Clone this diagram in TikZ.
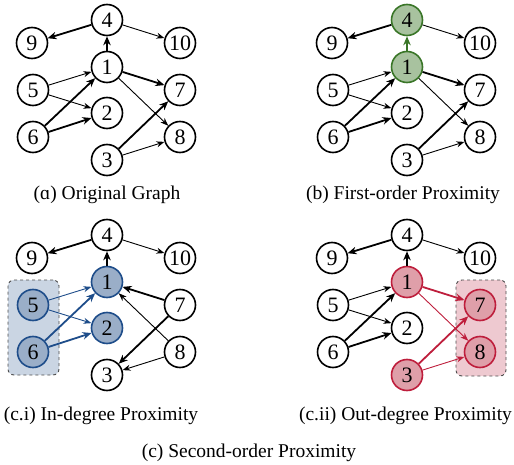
\documentclass[tikz,border=0pt]{standalone}
\usepackage{fontspec}
\setmainfont{Liberation Serif}
\usetikzlibrary{arrows.meta}
\definecolor{gfill}{HTML}{A8C29F}
\definecolor{gline}{HTML}{3A7628}
\definecolor{bfill}{HTML}{9AAEC8}
\definecolor{bline}{HTML}{1E4D8A}
\definecolor{bboxc}{HTML}{CAD5E3}
\definecolor{rfill}{HTML}{DF9FA9}
\definecolor{rline}{HTML}{BE1E3C}
\definecolor{rboxc}{HTML}{EEC9D0}
\tikzset{
  vert/.style={circle, draw=black, line width=1.6pt, fill=white, minimum size=31pt, inner sep=0pt, font=\fontsize{22}{22}\selectfont},
  gv/.style={vert, draw=gline, fill=gfill},
  bv/.style={vert, draw=bline, fill=bfill},
  rv/.style={vert, draw=rline, fill=rfill},
  thinedge/.style={-{Stealth[length=8pt,width=6pt]}, line width=0.9pt},
  thickedge/.style={-{Stealth[length=9pt,width=7.5pt]}, line width=1.8pt},
  grp/.style={draw=black!70, dashed, line width=0.9pt, rounded corners=6pt},
  captext/.style={anchor=base, inner sep=0pt, font=\fontsize{19.5}{20}\selectfont},
}
\begin{document}
\begin{tikzpicture}[x=1pt,y=-1pt]
\useasboundingbox (0,0) rectangle (514,465);

% ---------- (a) ----------
\begin{scope}[name prefix=a-]
  \node[vert] (4) at (107,20) {4};
  \node[vert] (9) at (32,43) {9};
  \node[vert] (10) at (180,43) {10};
  \node[vert] (1) at (107,67) {1};
  \node[vert] (5) at (33,90) {5};
  \node[vert] (7) at (180,90) {7};
  \node[vert] (2) at (107,113) {2};
  \node[vert] (6) at (33,137) {6};
  \node[vert] (8) at (180,137) {8};
  \node[vert] (3) at (107,160) {3};
  \draw[thickedge] (4) -- (9);
  \draw[thinedge] (4) -- (10);
  \draw[thickedge] (1) -- (4);
  \draw[thinedge] (5) -- (1);
  \draw[thinedge] (5) -- (2);
  \draw[thickedge] (6) -- (1);
  \draw[thickedge] (6) -- (2);
  \draw[thickedge] (1) -- (7);
  \draw[thinedge] (1) -- (8);
  \draw[thickedge] (3) -- (7);
  \draw[thinedge] (3) -- (8);
  \node[captext] (cap) at (107,200) {(ɑ) Original Graph};
\end{scope}

% ---------- (b) ----------
\begin{scope}[shift={(300,0)}, name prefix=b-]
  \node[gv] (4) at (107,20) {4};
  \node[vert] (9) at (32,43) {9};
  \node[vert] (10) at (180,43) {10};
  \node[gv] (1) at (107,67) {1};
  \node[vert] (5) at (33,90) {5};
  \node[vert] (7) at (180,90) {7};
  \node[vert] (2) at (107,113) {2};
  \node[vert] (6) at (33,137) {6};
  \node[vert] (8) at (180,137) {8};
  \node[vert] (3) at (107,160) {3};
  \draw[thickedge] (4) -- (9);
  \draw[thinedge] (4) -- (10);
  \draw[thickedge, gline] (1) -- (4);
  \draw[thinedge] (5) -- (1);
  \draw[thinedge] (5) -- (2);
  \draw[thickedge] (6) -- (1);
  \draw[thickedge] (6) -- (2);
  \draw[thickedge] (1) -- (7);
  \draw[thinedge] (1) -- (8);
  \draw[thickedge] (3) -- (7);
  \draw[thinedge] (3) -- (8);
  \node[captext] (cap) at (103,200) {(b) First-order Proximity};
\end{scope}

% ---------- (c.i) ----------
\begin{scope}[shift={(0,215)}, name prefix=c-]
  \node[grp, fill=bboxc, minimum width=51pt, minimum height=95pt] (box) at (33.5,112.5) {};
  \node[vert] (4) at (107,20) {4};
  \node[vert] (9) at (32,43) {9};
  \node[vert] (10) at (180,43) {10};
  \node[bv] (1) at (107,67) {1};
  \node[bv] (5) at (33,90) {5};
  \node[vert] (7) at (180,90) {7};
  \node[bv] (2) at (107,113) {2};
  \node[bv] (6) at (33,137) {6};
  \node[vert] (8) at (180,137) {8};
  \node[vert] (3) at (107,160) {3};
  \draw[thickedge] (4) -- (9);
  \draw[thinedge] (4) -- (10);
  \draw[thickedge] (1) -- (4);
  \draw[thinedge, bline] (5) -- (1);
  \draw[thinedge, bline] (5) -- (2);
  \draw[thickedge, bline] (6) -- (1);
  \draw[thickedge, bline] (6) -- (2);
  \draw[thickedge] (7) -- (1);
  \draw[thinedge] (8) -- (1);
  \draw[thickedge] (7) -- (3);
  \draw[thinedge] (8) -- (3);
  \node[captext] (cap) at (101,205) {(c.i) In-degree Proximity};
\end{scope}

% ---------- (c.ii) ----------
\begin{scope}[shift={(300,215)}, name prefix=d-]
  \node[grp, fill=rboxc, minimum width=50pt, minimum height=96pt] (box) at (181,113) {};
  \node[vert] (4) at (107,20) {4};
  \node[vert] (9) at (32,43) {9};
  \node[vert] (10) at (180,43) {10};
  \node[rv] (1) at (107,67) {1};
  \node[vert] (5) at (33,90) {5};
  \node[rv] (7) at (180,90) {7};
  \node[vert] (2) at (107,113) {2};
  \node[vert] (6) at (33,137) {6};
  \node[rv] (8) at (180,137) {8};
  \node[rv] (3) at (107,160) {3};
  \draw[thickedge] (4) -- (9);
  \draw[thinedge] (4) -- (10);
  \draw[thickedge] (1) -- (4);
  \draw[thinedge] (5) -- (1);
  \draw[thinedge] (5) -- (2);
  \draw[thickedge] (6) -- (1);
  \draw[thickedge] (6) -- (2);
  \draw[thickedge, rline] (1) -- (7);
  \draw[thinedge, rline] (1) -- (8);
  \draw[thickedge, rline] (3) -- (7);
  \draw[thinedge, rline] (3) -- (8);
  \node[captext] (cap) at (105.5,205) {(c.ii) Out-degree Proximity};
\end{scope}

\node[captext] (main) at (249,457) {(c) Second-order Proximity};
\end{tikzpicture}
\end{document}
